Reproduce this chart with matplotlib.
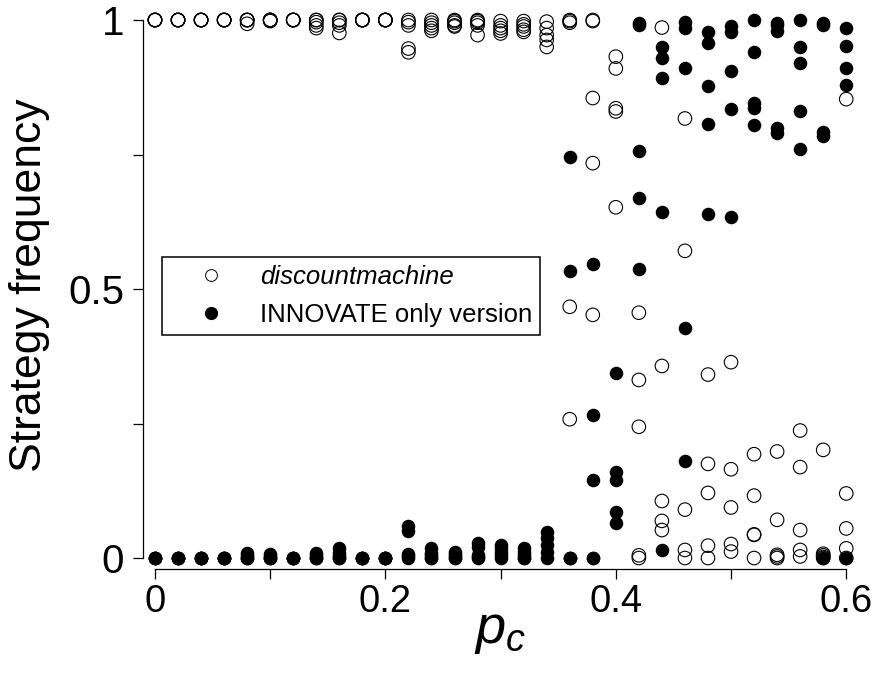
import numpy as np
import matplotlib
matplotlib.use('Agg')
import matplotlib.pyplot as plt
from matplotlib.lines import Line2D

plt.rcParams['font.family'] = ['Liberation Sans', 'DejaVu Sans']
plt.rcParams['mathtext.fontset'] = 'custom'
plt.rcParams['mathtext.it'] = 'Liberation Sans:italic'
plt.rcParams['mathtext.rm'] = 'Liberation Sans'

# p_c values (one column of runs per value)
pc = [0.00, 0.02, 0.04, 0.06, 0.08, 0.10, 0.12, 0.14, 0.16, 0.18, 0.20,
      0.22, 0.24, 0.26, 0.28, 0.30, 0.32, 0.34, 0.36, 0.38, 0.40, 0.42,
      0.44, 0.46, 0.48, 0.50, 0.52, 0.54, 0.56, 0.58, 0.60]

# discountmachine runs (open circles), 5 per p_c
discount = [
    [1, 1, 1, 1, 1],
    [1, 1, 1, 1, 1],
    [1, 1, 1, 1, 1],
    [1, 1, 1, 1, 1],
    [1, 1, 1, 1, 0.993],
    [1, 1, 1, 1, 0.998],
    [1, 1, 1, 1, 1],
    [1, 1, 0.996, 0.99, 0.985],
    [1, 1, 0.995, 0.99, 0.976],
    [1, 1, 1, 1, 1],
    [1, 1, 1, 1, 1],
    [1, 0.996, 0.99, 0.947, 0.94],
    [1, 0.995, 0.99, 0.985, 0.98],
    [1, 0.998, 0.995, 0.99, 0.988],
    [1, 0.998, 0.995, 0.99, 0.972],
    [0.998, 0.99, 0.985, 0.98, 0.975],
    [0.998, 0.992, 0.988, 0.982, 0.978],
    [0.997, 0.985, 0.972, 0.963, 0.95],
    [1, 0.998, 0.995, 0.467, 0.258],
    [1, 0.998, 0.855, 0.734, 0.452],
    [0.932, 0.91, 0.836, 0.83, 0.652],
    [0.456, 0.331, 0.244, 0.005, 0.0],
    [0.986, 0.357, 0.106, 0.069, 0.052],
    [0.817, 0.571, 0.09, 0.015, 0.0],
    [0.341, 0.175, 0.121, 0.023, 0.0],
    [0.364, 0.165, 0.094, 0.026, 0.012],
    [0.193, 0.116, 0.044, 0.043, 0.0],
    [0.198, 0.071, 0.006, 0.003, 0.0],
    [0.237, 0.169, 0.052, 0.015, 0.003],
    [0.201, 0.008, 0.005, 0.002, 0.0],
    [0.853, 0.12, 0.055, 0.018, 0.0],
]

# INNOVATE only version runs (filled circles), 5 per p_c
innovate = [
    [0, 0, 0, 0, 0],
    [0, 0, 0, 0, 0],
    [0, 0, 0, 0, 0],
    [0, 0, 0, 0, 0],
    [0.009, 0.005, 0, 0, 0],
    [0.007, 0.003, 0, 0, 0],
    [0, 0, 0, 0, 0],
    [0.01, 0.005, 0, 0, 0],
    [0.019, 0.009, 0.003, 0, 0],
    [0, 0, 0, 0, 0],
    [0, 0, 0, 0, 0],
    [0.06, 0.05, 0.008, 0.003, 0],
    [0.018, 0.01, 0.005, 0, 0],
    [0.012, 0.008, 0.004, 0, 0],
    [0.027, 0.02, 0.005, 0.002, 0],
    [0.024, 0.018, 0.012, 0.005, 0],
    [0.018, 0.012, 0.005, 0, 0],
    [0.049, 0.037, 0.024, 0.012, 0],
    [0.745, 0.534, 0.0, 0.0, 0.0],
    [0.546, 0.266, 0.145, 0.0, 0.0],
    [0.344, 0.16, 0.145, 0.086, 0.066],
    [0.995, 0.99, 0.757, 0.67, 0.537],
    [0.95, 0.929, 0.893, 0.643, 0.014],
    [0.997, 0.985, 0.91, 0.428, 0.18],
    [0.977, 0.957, 0.878, 0.807, 0.639],
    [0.989, 0.977, 0.905, 0.835, 0.633],
    [1.0, 0.94, 0.845, 0.836, 0.805],
    [0.995, 0.99, 0.98, 0.80, 0.79],
    [1.0, 0.95, 0.92, 0.831, 0.76],
    [0.994, 0.99, 0.792, 0.784, 0.0],
    [0.985, 0.952, 0.911, 0.879, 0.0],
]

x_open = np.repeat(pc, [len(r) for r in discount])
y_open = np.concatenate(discount)
x_fill = np.repeat(pc, [len(r) for r in innovate])
y_fill = np.concatenate(innovate)

fig = plt.figure(figsize=(8.72, 6.75), dpi=100)
ax = fig.add_axes([143 / 872, 106 / 675, 728 / 872, 567.8 / 675])

ax.scatter(x_open, y_open, s=95, facecolors='none', edgecolors='black',
           linewidths=0.8, clip_on=False, zorder=3)
ax.scatter(x_fill, y_fill, s=95, color='black', linewidths=0,
           clip_on=False, zorder=3)

ax.set_xlim(-0.0104, 0.6215)
ax.set_ylim(-0.0204, 1.035)

for side in ['top', 'right']:
    ax.spines[side].set_visible(False)
ax.spines['left'].set_bounds(0, 1)
ax.spines['bottom'].set_bounds(0, 0.6)
for side in ['left', 'bottom']:
    ax.spines[side].set_linewidth(0.9)

ax.set_xticks([0, 0.1, 0.2, 0.3, 0.4, 0.5, 0.6])
ax.set_xticklabels(['0', '', '0.2', '', '0.4', '', '0.6'])
ax.set_yticks([0, 0.25, 0.5, 0.75, 1])
ax.set_yticklabels(['0', '', '0.5', '', '1'])
ax.tick_params(axis='both', direction='out', length=7.5, width=0.9,
               labelsize=29, color='black')
ax.tick_params(axis='x', pad=3, labelsize=27.5)
ax.tick_params(axis='y', pad=6)

ax.set_ylabel('Strategy frequency', fontsize=32)
ax.yaxis.set_label_coords(-0.128, 0.5)
ax.set_xlabel('$p_c$', fontsize=39)
ax.xaxis.set_label_coords(0.49, -0.065)

handles = [
    Line2D([], [], marker='o', linestyle='none', markersize=8.5,
           markerfacecolor='none', markeredgecolor='black', markeredgewidth=0.7),
    Line2D([], [], marker='o', linestyle='none', markersize=8.5,
           markerfacecolor='black', markeredgecolor='black'),
]
leg = ax.legend(handles, ['discountmachine', 'INNOVATE only version'],
                loc='upper left', bbox_to_anchor=(162 / 872, 1 - 257 / 675),
                bbox_transform=fig.transFigure, borderaxespad=0,
                fontsize=18.5, frameon=True, fancybox=False, framealpha=1,
                borderpad=0.3, handlelength=3.2, handletextpad=0.3,
                labelspacing=0.55)
leg.get_frame().set_edgecolor('black')
leg.get_frame().set_linewidth(1.1)
leg.get_texts()[0].set_style('italic')

fig.savefig('out.png', dpi=100)
